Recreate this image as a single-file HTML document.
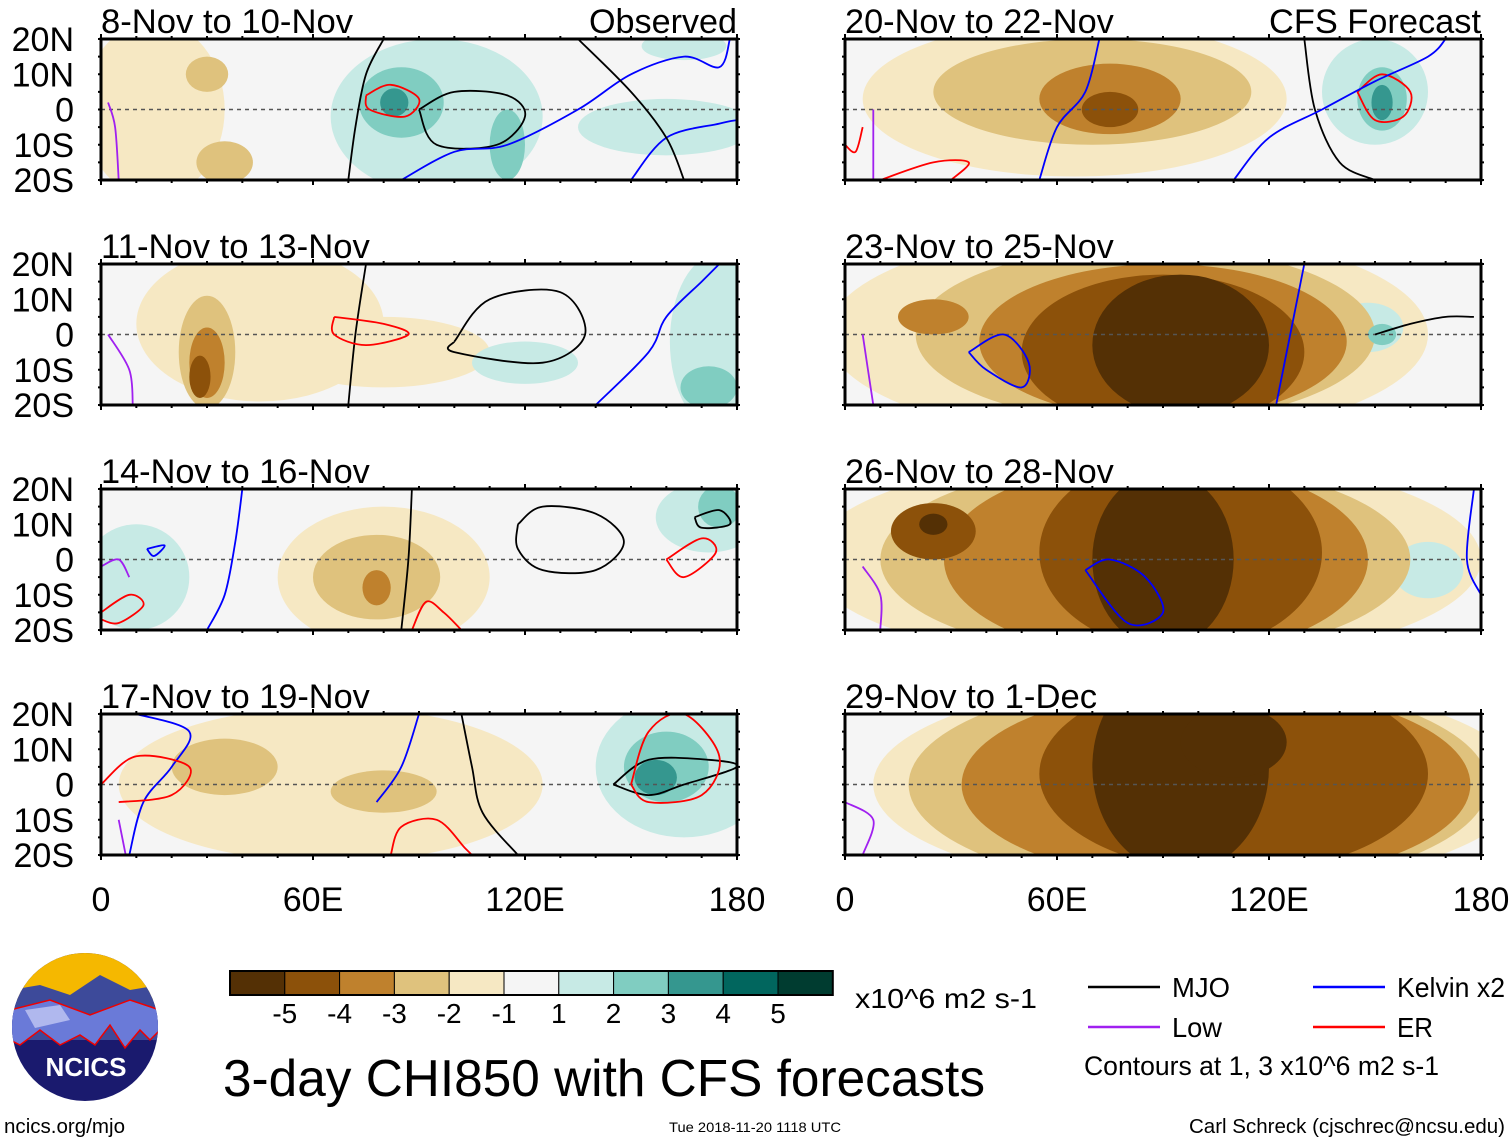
<!DOCTYPE html>
<html><head><meta charset="utf-8"><style>
body{margin:0;background:#fff;width:1510px;height:1142px;overflow:hidden}
svg{display:block;font-family:"Liberation Sans",sans-serif}
</style></head><body>
<svg id="s" width="1510" height="1142" viewBox="0 0 1510 1142"></svg>
<script>
// ---- data ----
const panelTitles = ["8-Nov to 10-Nov","11-Nov to 13-Nov","14-Nov to 16-Nov","17-Nov to 19-Nov","20-Nov to 22-Nov","23-Nov to 25-Nov","26-Nov to 28-Nov","29-Nov to 1-Dec"];
const latTicks = ["20N","10N","0","10S","20S"];
const latTickValues = [20,10,0,-10,-20];
const lonTicks = ["0","60E","120E","180"];
const lonTickValues = [0,60,120,180];
const levels = [-5,-4,-3,-2,-1,1,2,3,4,5];
// blobs: [lon, lat, rxDeg, ryDeg, value]
const blobs0 = [[15,0,20,25,-1],[30,10,6,5,-2],[35,-15,8,6,-2],[95,-2,30,22,1],[160,-5,25,8,1],[165,18,12,4,1],[85,2,12,10,2],[115,-10,5,10,2],[83,2,4,4,3]];
const blobs1 = [[45,3,35,22,-1],[80,-5,30,10,-1],[30,-5,8,16,-2],[30,-8,5,10,-3],[28,-12,3,6,-4],[175,-2,14,25,1],[120,-8,15,6,1],[172,-15,8,6,2]];
const blobs2 = [[80,-5,30,20,-1],[78,-5,18,12,-2],[78,-8,4,5,-3],[10,-5,15,15,1],[172,12,15,10,1],[175,15,6,6,2]];
const blobs3 = [[65,0,60,22,-1],[80,-2,15,6,-2],[35,5,15,8,-2],[165,5,25,20,1],[160,5,12,10,2],[157,2,6,5,3]];
const blobs4 = [[65,3,60,22,-1],[70,5,45,15,-2],[75,3,20,10,-3],[75,0,8,5,-4],[150,5,15,15,1],[152,3,7,9,2],[152,2,3,5,3]];
const blobs5 = [[80,0,85,30,-1],[85,0,65,25,-2],[90,-2,52,22,-3],[90,-5,40,22,-4],[95,-3,25,20,-5],[25,5,10,5,-3],[148,2,10,7,1],[152,0,4,3,2]];
const blobs6 = [[85,0,95,30,-1],[85,0,75,28,-2],[88,0,60,28,-3],[95,2,40,28,-4],[90,0,20,25,-5],[25,8,12,8,-4],[25,10,4,3,-5],[165,-3,10,8,1]];
const blobs7 = [[100,0,92,30,-1],[100,0,82,30,-2],[105,0,72,28,-3],[110,3,55,28,-4],[95,5,25,30,-5],[110,12,15,10,-5]];
// contours: [type, [lon,lat,...]]
const contours0 = [["mjo",[70,-20,72,-5,75,10,80,20]],["mjo",[90,0,100,5,115,4,120,-2,112,-10,95,-10,90,0]],["er",[75,4,82,7,90,3,86,-2,76,0,75,4]],["kel",[85,-20,100,-12,115,-10,135,0,150,10,165,15,175,12,178,20]],["kel",[150,-20,160,-8,175,-4,180,-3]],["mjo",[135,20,150,5,160,-8,165,-20]],["low",[5,-20,4,-5,2,2]]];
const contours1 = [["mjo",[70,-20,72,0,75,20]],["mjo",[100,-2,110,10,130,12,137,0,125,-8,100,-5,100,-2]],["er",[66,5,80,3,87,0,75,-3,66,0,66,5]],["kel",[140,-20,155,-5,160,5,170,15,175,20]],["low",[2,0,8,-10,9,-20]]];
const contours2 = [["mjo",[85,-20,87,0,88,20]],["mjo",[118,10,125,15,140,13,148,5,140,-3,125,-3,118,3,118,10]],["er",[160,0,170,6,174,2,165,-5,160,0]],["mjo",[168,12,175,14,178,10,170,9,168,12]],["kel",[30,-20,35,-10,38,5,40,20]],["kel",[13,3,18,4,15,1,13,3]],["er",[0,-15,8,-10,12,-13,5,-18,0,-17]],["low",[0,-2,5,0,8,-5]],["er",[88,-20,92,-12,97,-15,102,-20]]];
const contours3 = [["mjo",[102,20,105,5,108,-8,118,-20]],["mjo",[145,0,155,7,172,7,180,5,165,0,155,-3,145,0]],["er",[150,0,155,15,165,20,175,8,170,-3,155,-5,150,0]],["kel",[8,-20,12,-5,20,5,25,15,10,20]],["kel",[78,-5,85,5,90,20]],["er",[0,0,10,8,25,5,20,-3,5,-5]],["er",[82,-20,85,-12,95,-10,103,-18,105,-20]],["low",[5,-10,7,-20]]];
const contours4 = [["mjo",[130,20,133,0,140,-15,150,-20]],["er",[145,5,152,10,160,5,158,-2,150,-3,145,5]],["kel",[55,-20,60,-5,68,5,72,20]],["kel",[110,-20,120,-8,135,0,150,8,165,15,170,20]],["er",[10,-20,25,-15,35,-15,30,-20]],["low",[8,0,8,-20]],["er",[0,-10,3,-12,5,-5]]];
const contours5 = [["mjo",[150,0,160,3,170,5,178,5]],["kel",[35,-5,40,-10,50,-15,52,-8,45,0,35,-5]],["kel",[122,-20,125,-5,130,20]],["low",[5,0,8,-20]]];
const contours6 = [["kel",[68,-3,75,0,85,-5,90,-15,80,-18,68,-3]],["kel",[178,20,176,0,180,-10]],["low",[5,-2,10,-10,10,-20]]];
const contours7 = [["low",[0,-5,8,-10,5,-20]]];
const allBlobs=[blobs0,blobs1,blobs2,blobs3,blobs4,blobs5,blobs6,blobs7];
const allContours=[contours0,contours1,contours2,contours3,contours4,contours5,contours6,contours7];

const colors={"-5":"#543005","-4":"#8c510a","-3":"#bf812d","-2":"#dfc27d","-1":"#f6e8c3","0":"#f5f5f5","1":"#c7eae5","2":"#80cdc1","3":"#35978f","4":"#01665e","5":"#003c30"};
const lineCol={mjo:"#000",kel:"#0000ff",er:"#ff0000",low:"#a020f0"};
const NS="http://www.w3.org/2000/svg";
const svg=document.getElementById('s');
function el(t,a,p){const e=document.createElementNS(NS,t);for(const k in a)e.setAttribute(k,a[k]);(p||svg).appendChild(e);return e;}
function smooth(pts){ // catmull-rom
  let d='M'+pts[0][0].toFixed(1)+','+pts[0][1].toFixed(1);
  for(let i=0;i<pts.length-1;i++){
    const p0=pts[Math.max(0,i-1)],p1=pts[i],p2=pts[i+1],p3=pts[Math.min(pts.length-1,i+2)];
    const c1=[p1[0]+(p2[0]-p0[0])/6,p1[1]+(p2[1]-p0[1])/6],c2=[p2[0]-(p3[0]-p1[0])/6,p2[1]-(p3[1]-p1[1])/6];
    d+='C'+c1.map(v=>v.toFixed(1)).join(',')+' '+c2.map(v=>v.toFixed(1)).join(',')+' '+p2[0].toFixed(1)+','+p2[1].toFixed(1);
  }
  return d;
}
const W=636,H=141;
const colX=[101,845], rowY=[39,264,489,714];
function panel(i){
  const x0=colX[Math.floor(i/4)], y0=rowY[i%4];
  const sx=v=>x0+v/180*W, sy=v=>y0+(20-v)/40*H;
  const g=el('g',{});
  
  
  const cp=el('clipPath',{id:'c'+i},g);el('rect',{x:x0,y:y0,width:W,height:H},cp);
  el('rect',{x:x0,y:y0,width:W,height:H,fill:colors["0"]},g);
  const f=el('g',{'clip-path':'url(#c'+i+')'},g);
  const bl=allBlobs[i].slice().sort((a,b)=>Math.abs(a[4])-Math.abs(b[4]));
  for(const b of bl){
    const e=el('ellipse',{cx:sx(b[0]),cy:sy(b[1]),rx:b[2]/180*W,ry:b[3]/40*H,fill:colors[String(b[4])]},f);
    
    
  }
  el('line',{x1:x0,x2:x0+W,y1:sy(0),y2:sy(0),stroke:'#555','stroke-dasharray':'4 4','stroke-width':1.5},f);
  for(const c of allContours[i]){
    const p=c[1];const pts=[];for(let j=0;j<p.length;j+=2)pts.push([sx(p[j]),sy(p[j+1])]);
    const ln=el('path',{d:smooth(pts),fill:'none',stroke:lineCol[c[0]],'stroke-width':1.8},f);
    
    
  }
  el('rect',{x:x0,y:y0,width:W,height:H,fill:'none',stroke:'#000','stroke-width':3},g);
  for(let lo=0;lo<=180;lo+=10){const big=lo%60===0;
    el('line',{x1:sx(lo),x2:sx(lo),y1:y0-(big?5:3),y2:y0,stroke:'#000','stroke-width':2},g);
    el('line',{x1:sx(lo),x2:sx(lo),y1:y0+H,y2:y0+H+(big?5:3),stroke:'#000','stroke-width':2},g);}
  for(let la=-20;la<=20;la+=5){el('line',{x1:x0-3,x2:x0,y1:sy(la),y2:sy(la),stroke:'#000','stroke-width':2},g);el('line',{x1:x0+W,x2:x0+W+3,y1:sy(la),y2:sy(la),stroke:'#000','stroke-width':2},g);}
  const t=el('text',{x:x0,y:y0-6,'font-size':34,textLength:panelTitles[i].length*16.8,lengthAdjust:'spacingAndGlyphs'},g);t.textContent=panelTitles[i];
  
  
  if(i===0||i===4){const r=el('text',{x:x0+W,y:y0-6,'font-size':34,'text-anchor':'end',textLength:i===0?148:212,lengthAdjust:'spacingAndGlyphs'},g);r.textContent=i===0?"Observed":"CFS Forecast";
    
    }
  if(i<4){latTickValues.forEach((v,j)=>{const tt=el('text',{x:74,y:sy(v)+12,'font-size':34,'text-anchor':'end'},g);tt.textContent=latTicks[j];
    
    });}
  if(i%4===3){lonTickValues.forEach((v,j)=>{const tt=el('text',{x:sx(v),y:911,'font-size':34,'text-anchor':'middle'},g);tt.textContent=lonTicks[j];
    
    });}
}
for(let i=0;i<8;i++)panel(i);

// colorbar
const cb=el('g',{});


const cbKeys=["-5","-4","-3","-2","-1","0","1","2","3","4","5"];
cbKeys.forEach((k,j)=>el('rect',{x:230+j*54.8,y:971,width:54.8,height:24,fill:colors[k],stroke:'#000','stroke-width':1},cb));
el('rect',{x:230,y:971,width:602.8,height:24,fill:'none',stroke:'#000','stroke-width':2},cb);
levels.forEach((v,j)=>{const t=el('text',{x:284.8+j*54.8,y:1023,'font-size':28,'text-anchor':'middle'},cb);t.textContent=String(v);});
const u=el('text',{x:855,y:1008,'font-size':28,textLength:182,lengthAdjust:'spacingAndGlyphs'},cb);u.textContent="x10^6 m2 s-1";
// legend
const lg=el('g',{});


[["MJO","#000",1088,987,58],["Kelvin x2","#0000ff",1313,987,108],["Low","#a020f0",1088,1027,50],["ER","#ff0000",1313,1027,36]].forEach(a=>{
  el('line',{x1:a[2],x2:a[2]+72,y1:a[3],y2:a[3],stroke:a[1],'stroke-width':2.5},lg);
  const t=el('text',{x:a[2]+84,y:a[3]+10,'font-size':28,textLength:a[4],lengthAdjust:'spacingAndGlyphs'},lg);t.textContent=a[0];
});
const ct=el('text',{x:1084,y:1075,'font-size':27,textLength:355,lengthAdjust:'spacingAndGlyphs'},lg);ct.textContent="Contours at 1, 3 x10^6 m2 s-1";
const ti=el('text',{x:223,y:1096,'font-size':52,textLength:762,lengthAdjust:'spacingAndGlyphs'});ti.textContent="3-day CHI850 with CFS forecasts";


const f1=el('text',{x:4,y:1133,'font-size':20,textLength:121,lengthAdjust:'spacingAndGlyphs'});f1.textContent="ncics.org/mjo";
const f2=el('text',{x:669,y:1132,'font-size':14,textLength:172,lengthAdjust:'spacingAndGlyphs'});f2.textContent="Tue 2018-11-20 1118 UTC";
const f3=el('text',{x:1189,y:1133,'font-size':20,textLength:316,lengthAdjust:'spacingAndGlyphs'});f3.textContent="Carl Schreck (cjschrec@ncsu.edu)";
// logo
const lo=el('g',{});


const lc=el('clipPath',{id:'lc'},lo);el('ellipse',{cx:85,cy:1027,rx:73,ry:74},lc);
const lg2=el('g',{'clip-path':'url(#lc)'},lo);
el('rect',{x:0,y:950,width:170,height:160,fill:'#1a1a6e'},lg2);
el('rect',{x:0,y:950,width:170,height:50,fill:'#f5b800'},lg2);
el('path',{d:'M10,990 L40,985 L70,995 L100,975 L130,990 L160,985 L160,1040 L10,1040Z',fill:'#3d4a9a'},lg2);
el('path',{d:'M10,1010 L50,1000 L90,1015 L130,1000 L160,1010 L160,1030 L150,1040 L140,1030 L125,1048 L110,1025 L95,1045 L80,1035 L60,1045 L40,1030 L20,1045 L10,1040Z',fill:'#6a7ad8',stroke:'#e00','stroke-width':1.5},lg2);
el('path',{d:'M25,1010 L60,1005 L70,1020 L35,1028Z',fill:'#b0b8ee'},lg2);
const nt=el('text',{x:86,y:1076,'font-size':26,'font-weight':'bold',fill:'#fff','text-anchor':'middle'},lo);nt.textContent="NCICS";
</script>
</body></html>
